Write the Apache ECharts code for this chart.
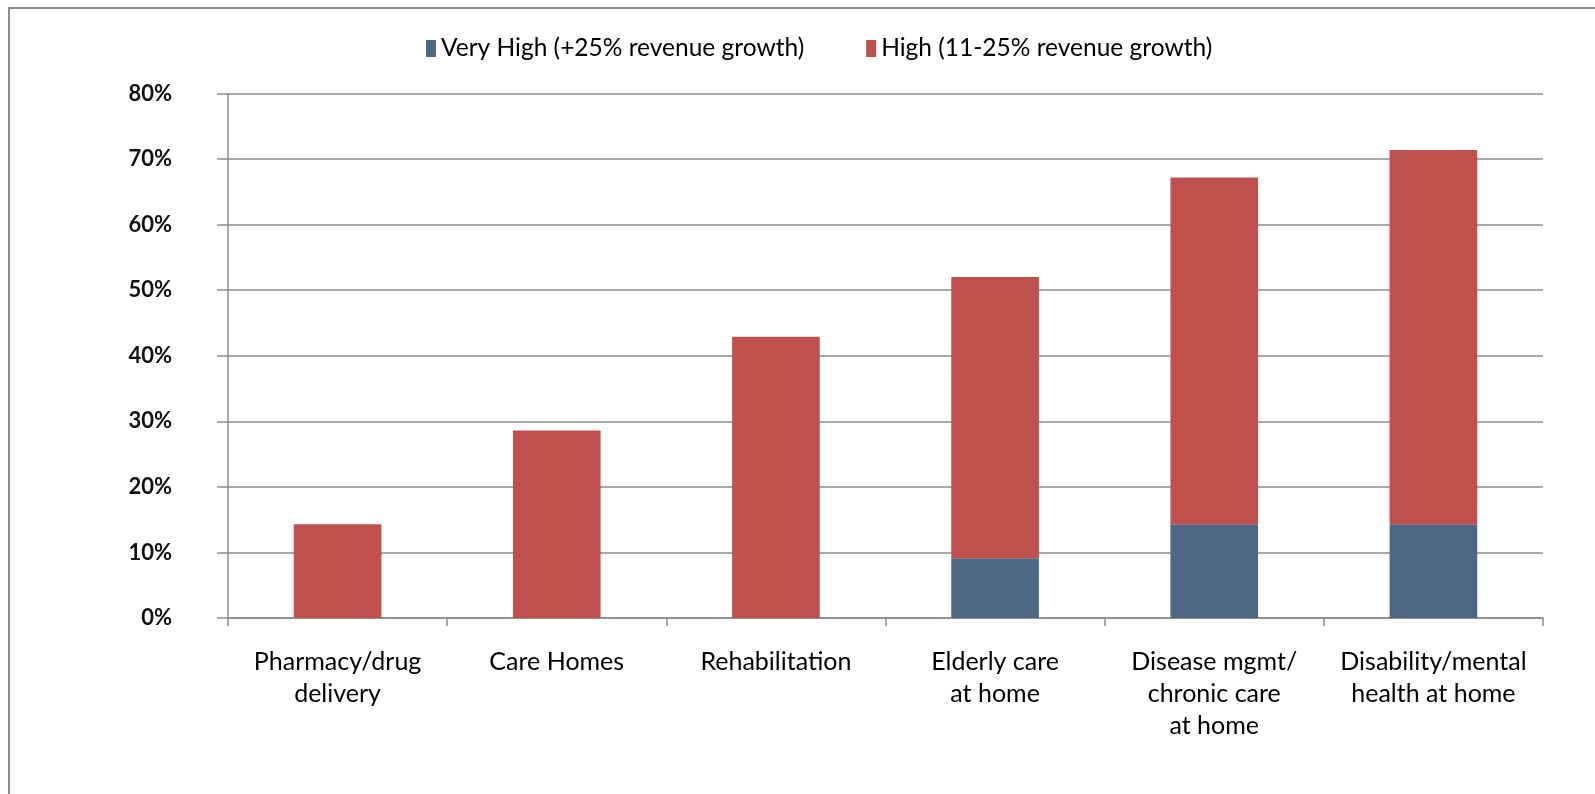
<!DOCTYPE html>
<html>
<head>
<meta charset="utf-8">
<script src="https://cdn.jsdelivr.net/npm/echarts@6/dist/echarts.min.js"></script>
<style>
html,body{margin:0;padding:0;background:#fff;}
#chart{width:1595px;height:794px;}
</style>
</head>
<body>
<div id="chart"></div>
<script>
const categories = [
  "Pharmacy/drug\ndelivery",
  "Care Homes",
  "Rehabilitation",
  "Elderly care\nat home",
  "Disease mgmt/\nchronic care\nat home",
  "Disability/mental\nhealth at home"
];
const seriesNames = ["Very High (+25% revenue growth)", "High (11-25% revenue growth)"];
const veryHigh = [0, 0, 0, 9.1, 14.3, 14.3];
const high = [14.3, 28.6, 42.9, 42.9, 52.9, 57.1];
const yMin = 0, yMax = 80, yStep = 10;

const FONT = "Lato, 'Liberation Sans', sans-serif";
const chart = echarts.init(document.getElementById('chart'), null, {renderer: 'canvas'});
chart.setOption({
  backgroundColor: '#ffffff',
  animation: false,
  graphic: [{
    type: 'rect',
    shape: {x: 9, y: 8, width: 1700, height: 900},
    style: {fill: 'none', stroke: '#8c8c8c', lineWidth: 2}
  }],
  legend: {
    data: seriesNames,
    left: 421,
    top: 31,
    itemWidth: 10,
    itemHeight: 17,
    itemGap: 62,
    icon: 'rect',
    textStyle: {fontFamily: FONT, fontSize: 24.5, color: '#000'}
  },
  grid: {left: 228, right: 52, top: 93.5, bottom: 176, containLabel: false},
  xAxis: {
    type: 'category',
    data: categories,
    axisLine: {lineStyle: {color: '#8c8c8c', width: 1.5}},
    axisTick: {show: true, alignWithLabel: false, length: 8, lineStyle: {color: '#8c8c8c', width: 1.5}},
    axisLabel: {fontFamily: FONT, fontSize: 25, color: '#000', margin: 28, lineHeight: 32, interval: 0}
  },
  yAxis: {
    type: 'value',
    min: yMin, max: yMax, interval: yStep,
    axisLine: {show: true, lineStyle: {color: '#8c8c8c', width: 1.5}},
    axisTick: {show: true, length: 11, lineStyle: {color: '#8c8c8c', width: 1.5}},
    splitLine: {lineStyle: {color: '#8c8c8c', width: 1.5}},
    axisLabel: {fontFamily: FONT, fontSize: 22, fontWeight: 'bold', color: '#111', margin: 56, formatter: '{value}%'}
  },
  series: [
    {name: seriesNames[0], type: 'bar', stack: 'total', data: veryHigh, barCategoryGap: '60%', itemStyle: {color: '#4E6782'}},
    {name: seriesNames[1], type: 'bar', stack: 'total', data: high, barCategoryGap: '60%', itemStyle: {color: '#C0504D'}}
  ]
});
</script>
</body>
</html>
